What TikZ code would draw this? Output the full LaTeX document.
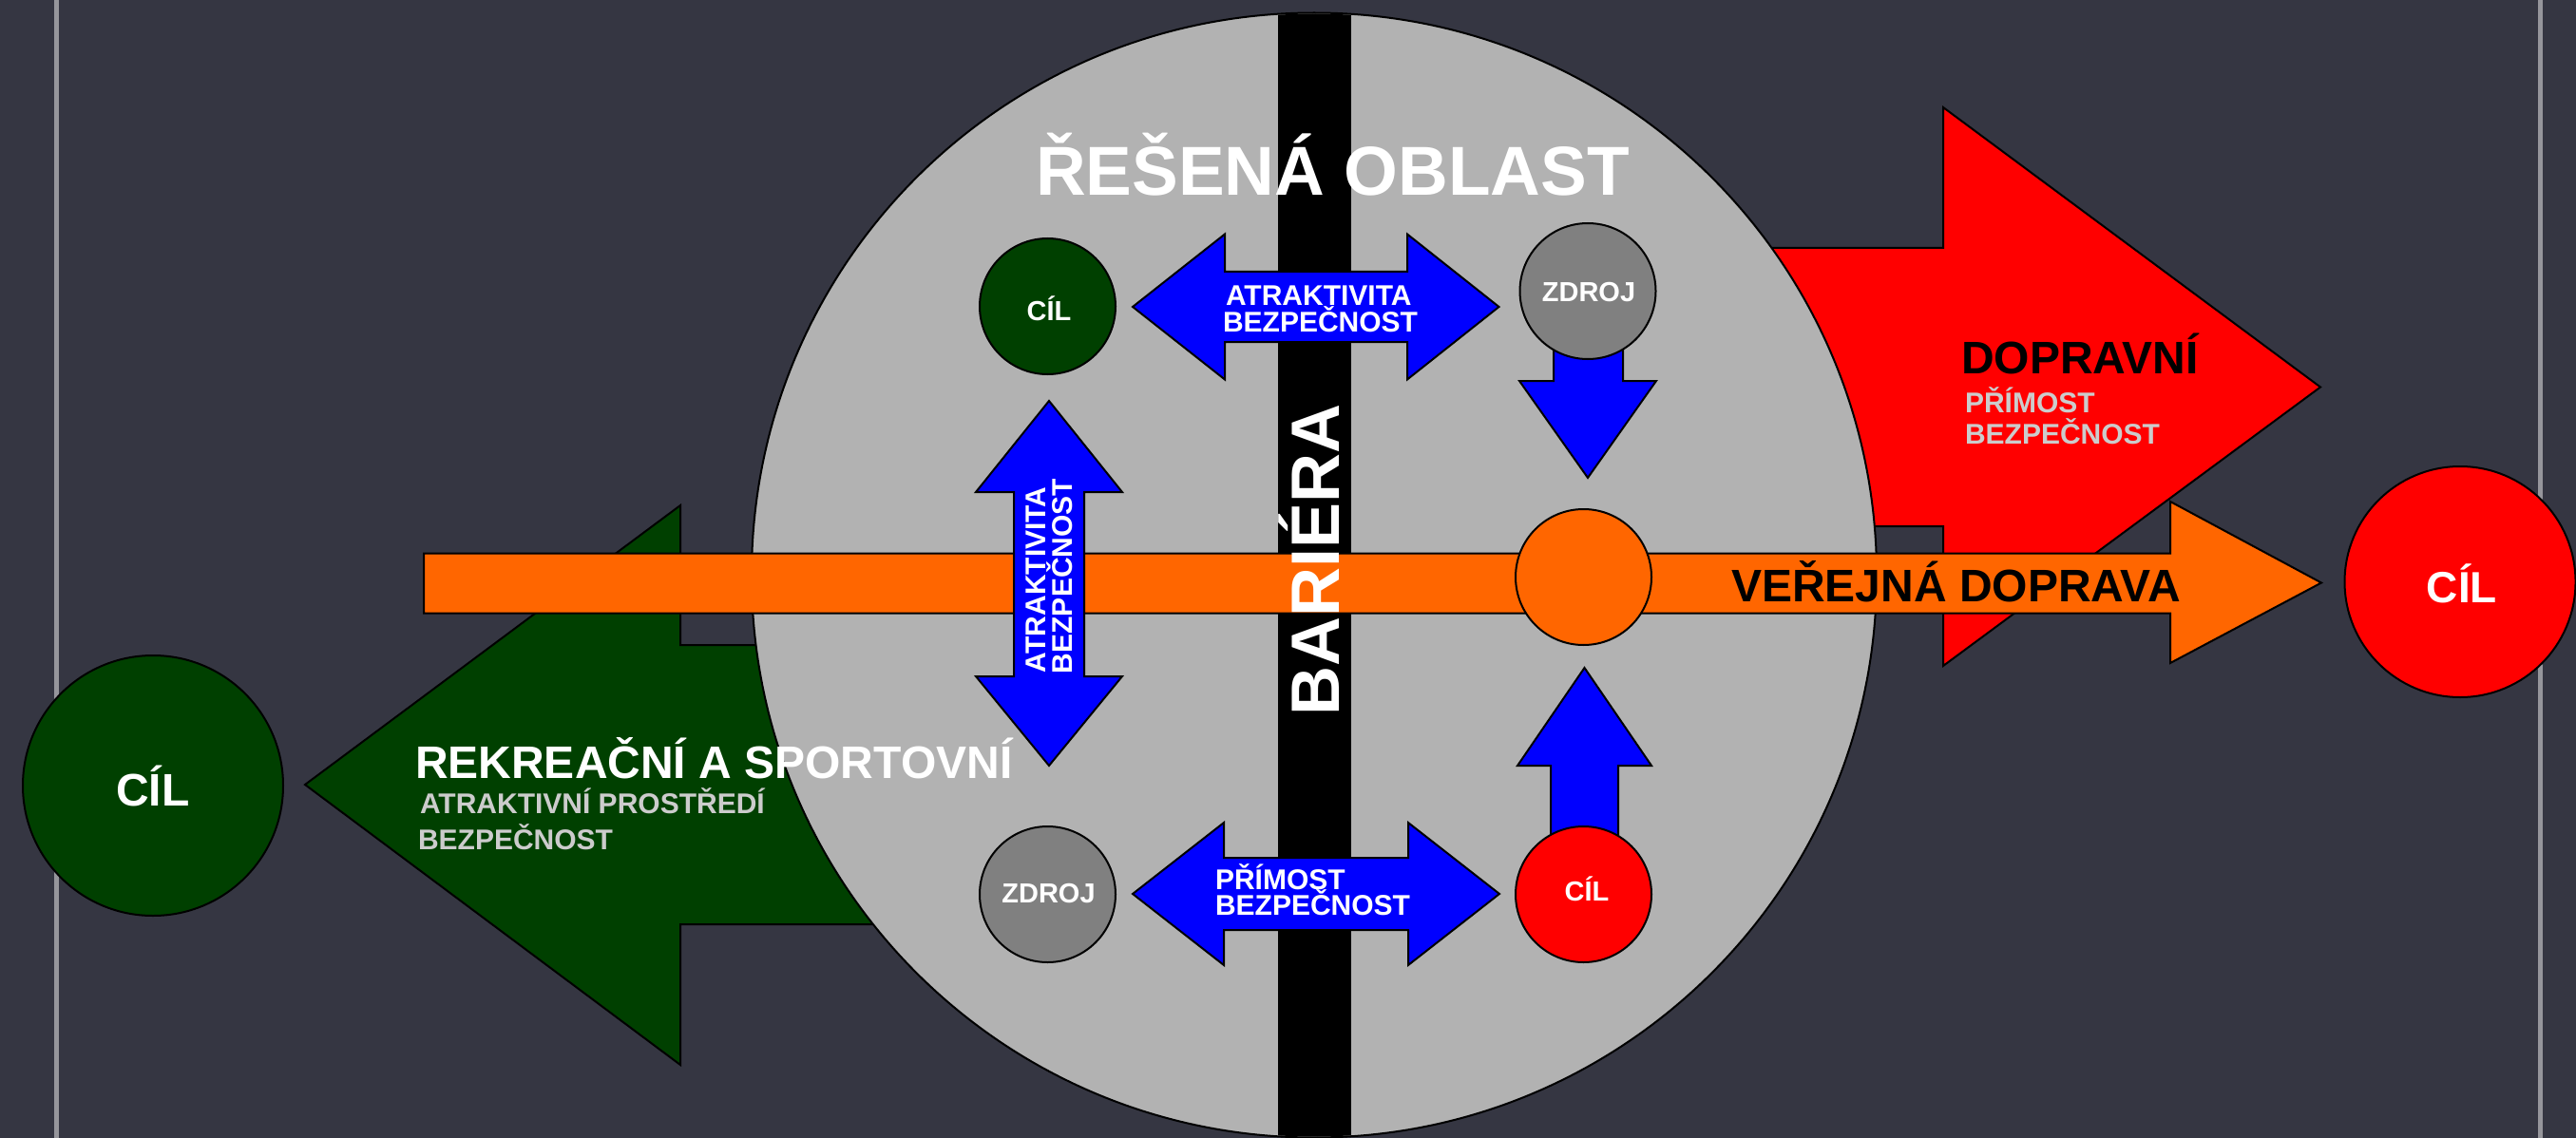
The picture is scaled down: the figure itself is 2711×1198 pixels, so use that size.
\documentclass[tikz,border=0pt]{standalone}
\usepackage{fontspec}
\setmainfont{Liberation Sans}
\definecolor{bg}{RGB}{53,54,66}
\definecolor{vline}{RGB}{150,150,156}
\definecolor{zone}{RGB}{178,178,178}
\definecolor{src}{RGB}{128,128,128}
\definecolor{dgreen}{RGB}{0,64,0}
\definecolor{pred}{RGB}{255,0,0}
\definecolor{porange}{RGB}{255,102,0}
\definecolor{pblue}{RGB}{0,0,255}
\definecolor{subtxt}{RGB}{204,204,204}
\newcommand{\fs}[1]{\bfseries\fontsize{#1}{#1}\selectfont}
\begin{document}
\begin{tikzpicture}[x=1pt,y=-1pt,
  outl/.style={draw=black,line width=2pt,line join=miter},
  dot/.style={circle,draw=black,line width=2pt,minimum size=143pt,inner sep=0pt},
  bigdot/.style={circle,draw=black,line width=2pt,inner sep=0pt},
  txt/.style={inner sep=0pt,outer sep=0pt},
  small/.style={txt,font=\fs{29},text=white},
  arrowtxt/.style={txt,font=\fs{30},text=white},
  subline/.style={txt,font=\fs{30},text=subtxt},
  head/.style={txt,font=\fs{48}}
]
\useasboundingbox (0,0) rectangle (2711,1198);
\fill[bg] (0,0) rectangle (2711,1198);
% frame lines
\draw[vline,line width=5pt] (59,0) -- (59,1198);
\draw[vline,line width=5pt] (2673,0) -- (2673,1198);
% green arrow (left)
\draw[outl,fill=dgreen] (1000,679) -- (716,679) -- (716,532) -- (321,826) -- (716,1121) -- (716,973) -- (1000,973) -- cycle;
% red arrow (right)
\draw[outl,fill=pred] (1750,261) -- (2045,261) -- (2045,113) -- (2442,407.5) -- (2045,701) -- (2045,554) -- (1750,554) -- cycle;
% solved area
\node[circle,draw=black,line width=2pt,fill=zone,minimum size=1184pt,inner sep=0pt] (zone) at (1383,605.5) {};
\begin{scope}
  \clip (1383,605.5) circle[radius=591pt];
  \fill[black] (1345,0) rectangle (1422,1198);
\end{scope}
% orange arrow
\draw[outl,fill=porange] (446,582.5) -- (2284,582.5) -- (2284,528) -- (2443,613.5) -- (2284,698) -- (2284,645.5) -- (446,645.5) -- cycle;
% blue arrows
\draw[outl,fill=pblue] (1192,323) -- (1289,246.5) -- (1289,286) -- (1481,286) -- (1481,246.5) -- (1577.5,323) -- (1481,399.5) -- (1481,360) -- (1289,360) -- (1289,399.5) -- cycle;
\draw[outl,fill=pblue] (1192,941) -- (1288,866) -- (1288,903) -- (1482,903) -- (1482,866) -- (1578,941) -- (1482,1016) -- (1482,979) -- (1288,979) -- (1288,1016) -- cycle;
\draw[outl,fill=pblue] (1104,422) -- (1181,518) -- (1141,518) -- (1141,712) -- (1181,712) -- (1104,806) -- (1027,712) -- (1067,712) -- (1067,518) -- (1027,518) -- cycle;
\draw[outl,fill=pblue] (1635,320) -- (1708,320) -- (1708,401) -- (1743,401) -- (1671,503) -- (1599,401) -- (1635,401) -- cycle;
\draw[outl,fill=pblue] (1667.5,703) -- (1738,806) -- (1703,806) -- (1703,920) -- (1632,920) -- (1632,806) -- (1597,806) -- cycle;
% small circles
\node[dot,fill=dgreen] (cilG) at (1102.5,322.5) {};
\node[dot,fill=src] (zdrojT) at (1671,306.5) {};
\node[dot,fill=porange] (stop) at (1666.5,607.5) {};
\node[dot,fill=src] (zdrojB) at (1102.5,941.5) {};
\node[dot,fill=pred] (cilR) at (1666.5,941.5) {};
% big target circles
\node[bigdot,fill=dgreen,minimum size=274pt] (cilL) at (161,827) {};
\node[bigdot,fill=pred,minimum size=243pt] (cilRR) at (2589,612.5) {};
% texts
\node[txt,anchor=base,font=\fs{73},text=white] (title) at (1402.5,206) {ŘEŠENÁ OBLAST};
\node[txt,rotate=90,anchor=base,font=\fs{72},text=white] (barrier) at (1409,589) {BARIÉRA};
\node[arrowtxt,anchor=base west] (t1a) at (1290,321) {ATRAKTIVITA};
\node[arrowtxt,anchor=base west] (t1b) at (1287,349) {BEZPEČNOST};
\node[arrowtxt,anchor=base west] (t2a) at (1279,936) {PŘÍMOST};
\node[arrowtxt,anchor=base west] (t2b) at (1279,963) {BEZPEČNOST};
\node[arrowtxt,rotate=90,anchor=base west] (t3a) at (1100,708) {ATRAKTIVITA};
\node[arrowtxt,rotate=90,anchor=base west] (t3b) at (1128,709) {BEZPEČNOST};
\node[head,text=white,anchor=base west] (rek) at (437,819) {REKREAČNÍ A SPORTOVNÍ};
\node[subline,anchor=base west] (rek1) at (442,856) {ATRAKTIVNÍ PROSTŘEDÍ};
\node[subline,anchor=base west] (rek2) at (440,894) {BEZPEČNOST};
\node[head,text=black,anchor=base west] (dop) at (2064,393) {DOPRAVNÍ};
\node[subline,anchor=base west] (dop1) at (2068,434) {PŘÍMOST};
\node[subline,anchor=base west] (dop2) at (2068,467) {BEZPEČNOST};
\node[head,text=black,anchor=base west] (vd) at (1822,633) {VEŘEJNÁ DOPRAVA};
\node[head,text=white,anchor=base] (lcil) at (161,848) {CÍL};
\node[txt,font=\fs{46},text=white,anchor=base] (rcil) at (2591,634) {CÍL};
\node[small,anchor=base] (l1) at (1104,337) {CÍL};
\node[small,anchor=base] (l2) at (1672,317) {ZDROJ};
\node[small,anchor=base] (l3) at (1103.5,950) {ZDROJ};
\node[small,anchor=base] (l4) at (1670,948) {CÍL};
\end{tikzpicture}
\end{document}
